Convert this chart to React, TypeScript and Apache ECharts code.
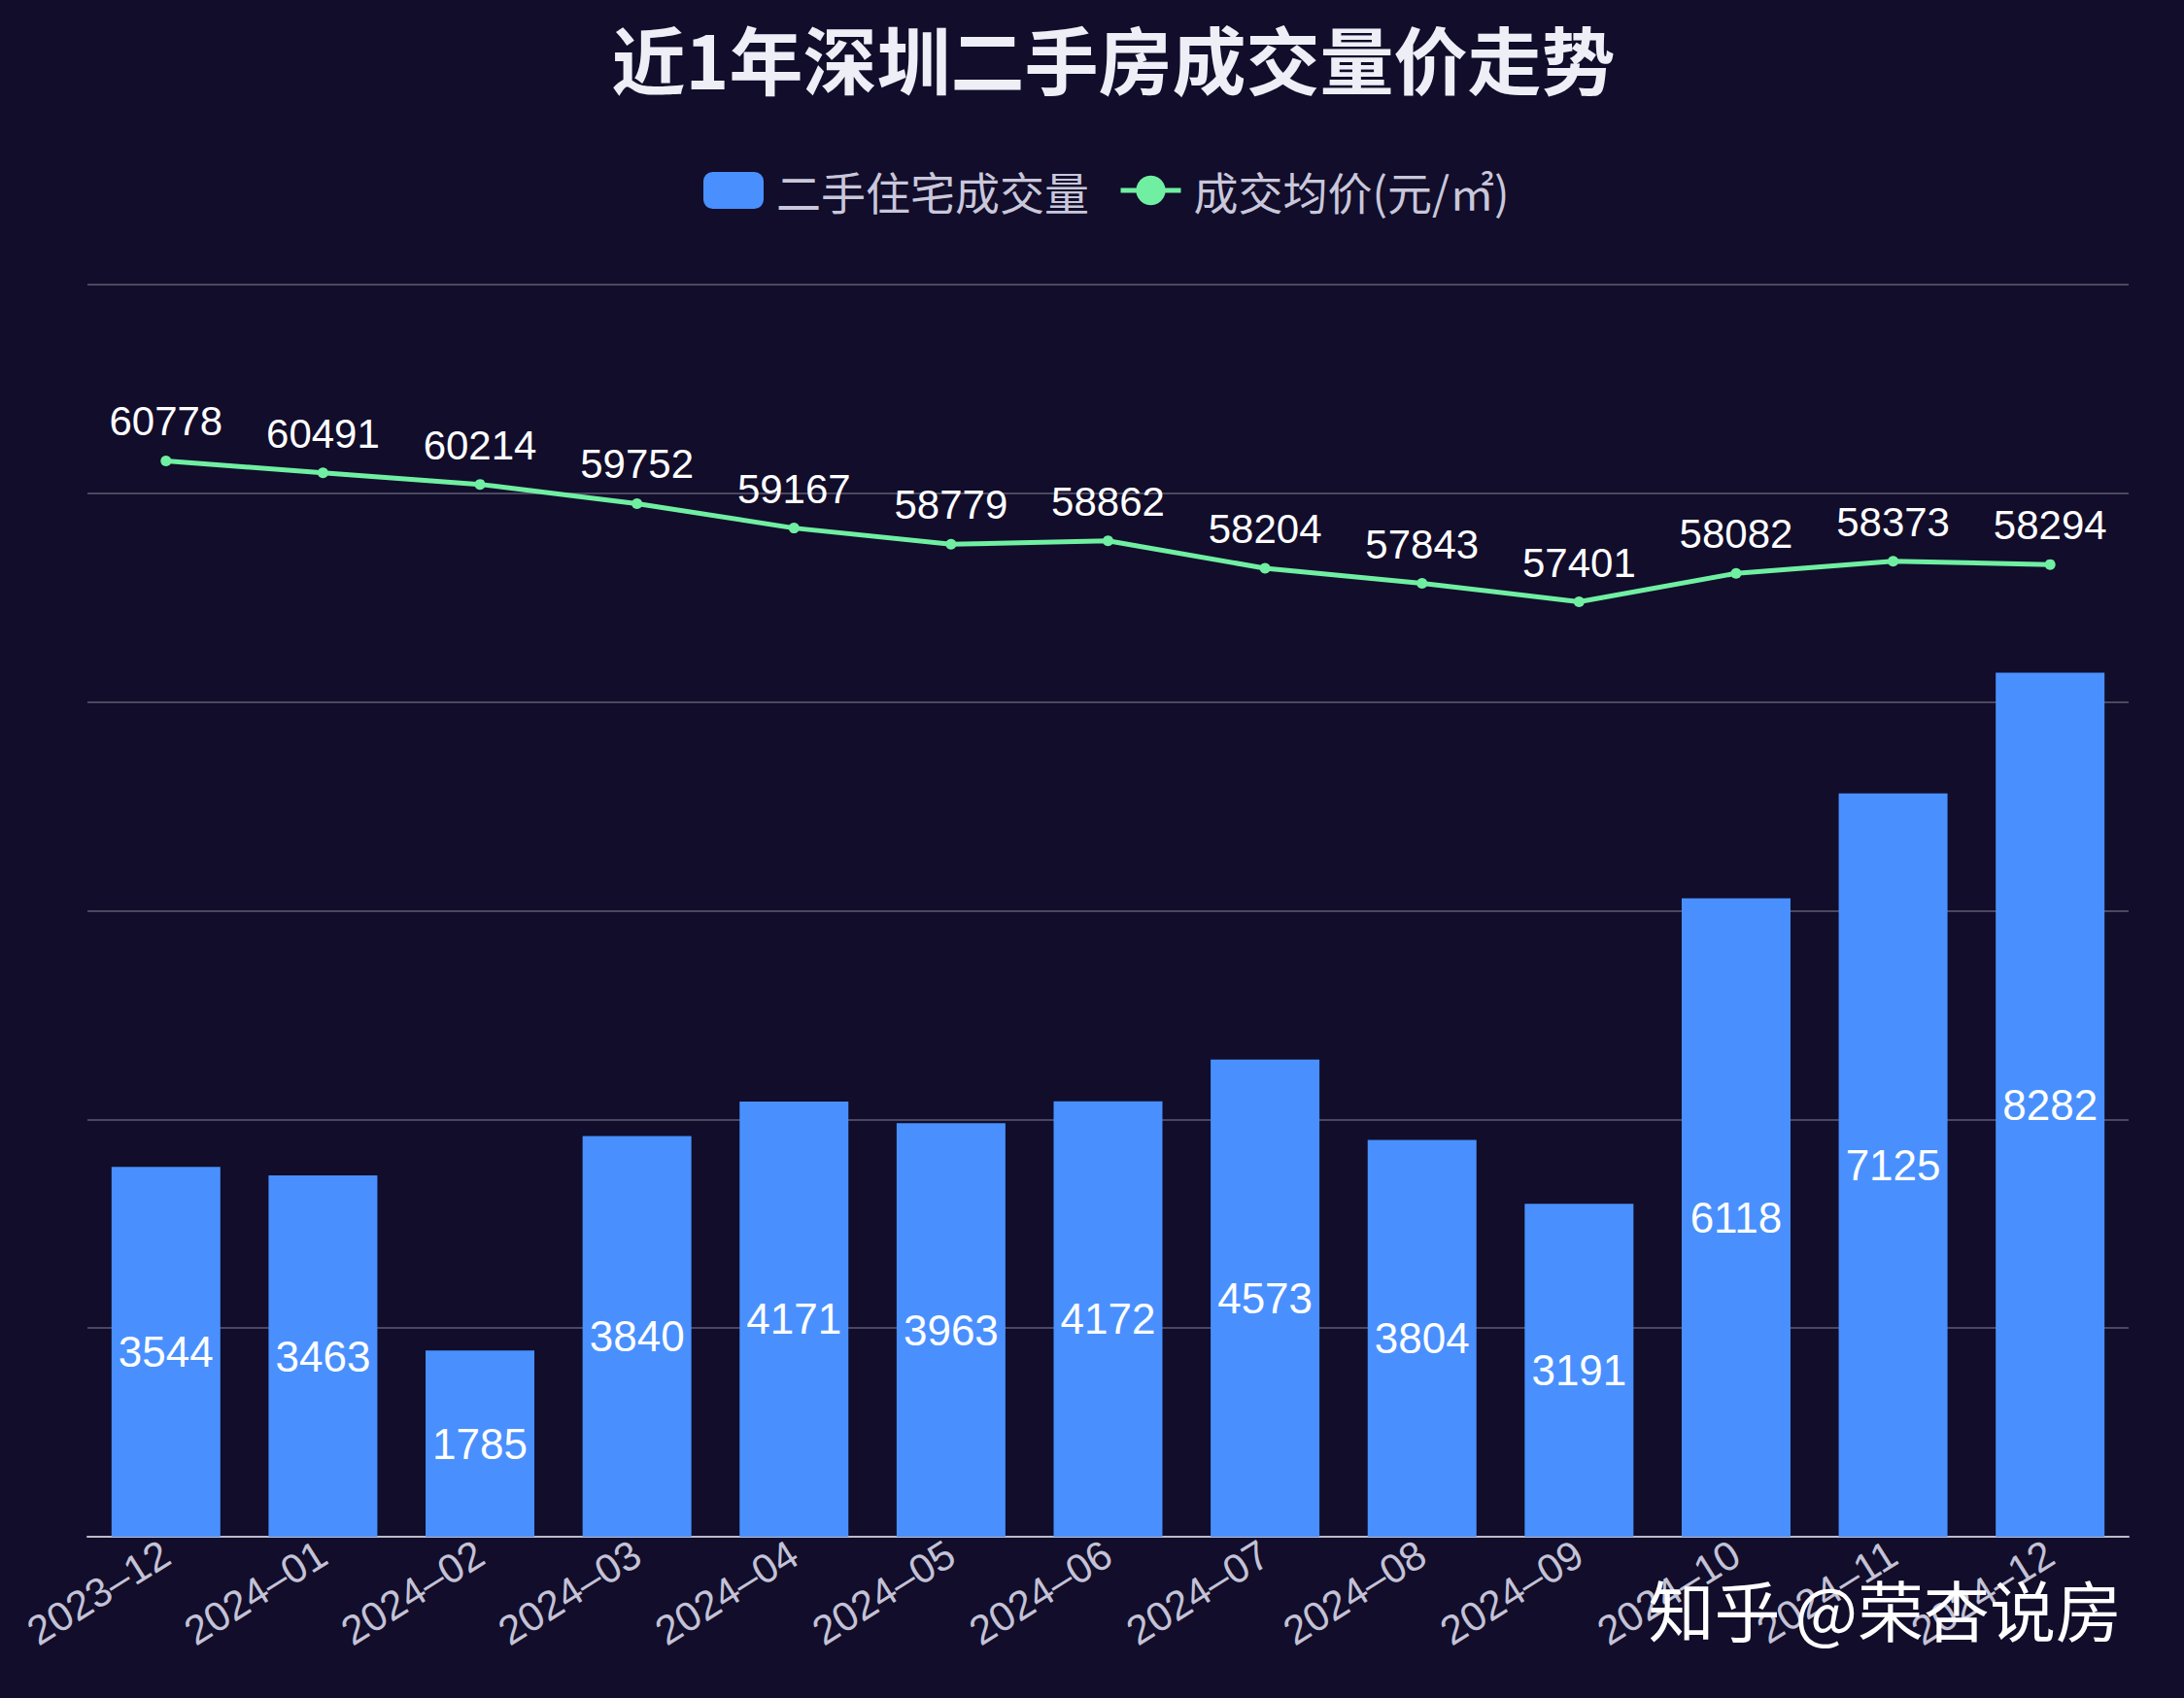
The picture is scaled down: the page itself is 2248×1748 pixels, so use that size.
import React, { useEffect, useRef } from "react";
import * as echarts from "echarts";

const categories = [
  "2023-12", "2024-01", "2024-02", "2024-03", "2024-04", "2024-05", "2024-06",
  "2024-07", "2024-08", "2024-09", "2024-10", "2024-11", "2024-12",
];
const volumes = [3544, 3463, 1785, 3840, 4171, 3963, 4172, 4573, 3804, 3191, 6118, 7125, 8282];
const prices = [60778, 60491, 60214, 59752, 59167, 58779, 58862, 58204, 57843, 57401, 58082, 58373, 58294];

const TITLE = "近1年深圳二手房成交量价走势";
const BAR_NAME = "二手住宅成交量";
const LINE_NAME = "成交均价(元/㎡)";
const WATERMARK = "知乎 @荣杏说房";

const FONT = "'Liberation Sans', 'Noto Sans CJK SC', sans-serif";

export default function App() {
  const ref = useRef<HTMLDivElement>(null);
  useEffect(() => {
    if (!ref.current) return;
    const chart = echarts.init(ref.current, null, { renderer: "svg" });
    chart.setOption({
      animation: false,
      backgroundColor: "#110d2b",
      textStyle: { fontFamily: FONT },
      title: {
        text: TITLE,
        left: 1141,
        textAlign: "center",
        top: 16,
        textStyle: {
          color: "#eeeef6",
          fontSize: 76,
          fontWeight: "bold",
          fontFamily: "'Noto Sans CJK SC', sans-serif",
        },
      },
      legend: {
        top: 173,
        left: 724,
        itemWidth: 62,
        itemHeight: 38,
        itemGap: 30,
        padding: 0,
        textStyle: {
          color: "#c9c7da",
          fontSize: 46,
          fontFamily: "'Noto Sans CJK SC', sans-serif",
          padding: [0, 0, 0, 8],
        },
        data: [
          { name: BAR_NAME, icon: "roundRect" },
          { name: LINE_NAME, lineStyle: { width: 5 } },
        ],
      },
      grid: { left: 90, right: 57, top: 293, bottom: 166 },
      xAxis: {
        type: "category",
        data: categories,
        axisLine: { lineStyle: { color: "#bdbcc8", width: 2 } },
        axisTick: { length: 11, lineStyle: { color: "#bdbcc8", width: 2 } },
        axisLabel: {
          rotate: 32,
          color: "#c4c2d6",
          fontSize: 42,
          margin: 14,
          interval: 0,
          formatter: (v: string) => v.replace("-", "–"),
        },
      },
      yAxis: [
        {
          type: "value",
          min: 0,
          max: 12000,
          interval: 2000,
          axisLabel: { show: false },
          axisLine: { show: false },
          axisTick: { show: false },
          splitLine: { lineStyle: { color: "#4a4860", width: 2 } },
        },
        {
          type: "value",
          min: 35000,
          max: 65000,
          interval: 5000,
          axisLabel: { show: false },
          axisLine: { show: false },
          axisTick: { show: false },
          splitLine: { show: false },
        },
      ],
      series: [
        {
          name: BAR_NAME,
          type: "bar",
          data: volumes,
          barWidth: 112,
          itemStyle: { color: "#4990fe" },
          label: {
            show: true,
            position: "inside",
            color: "#ffffff",
            fontSize: 44,
          },
        },
        {
          name: LINE_NAME,
          type: "line",
          yAxisIndex: 1,
          data: prices,
          symbol: "circle",
          symbolSize: 11,
          lineStyle: { color: "#70efa2", width: 5 },
          itemStyle: { color: "#70efa2" },
          label: {
            show: true,
            position: "top",
            distance: 14,
            color: "#ffffff",
            fontSize: 42,
          },
        },
      ],
      graphic: [
        {
          type: "text",
          x: 2184,
          y: 1655,
          z: 100,
          style: {
            text: WATERMARK,
            fill: "#ffffff",
            font: "68px 'Noto Sans CJK SC', sans-serif",
            align: "right",
            verticalAlign: "middle",
            textAlign: "right",
            textVerticalAlign: "middle",
            shadowColor: "rgba(0,0,0,0.7)",
            shadowBlur: 6,
          },
        },
      ],
    });
    return () => chart.dispose();
  }, []);
  return (
    <div
      ref={ref}
      style={{ position: "fixed", left: 0, top: 0, width: 2248, height: 1748 }}
    />
  );
}
